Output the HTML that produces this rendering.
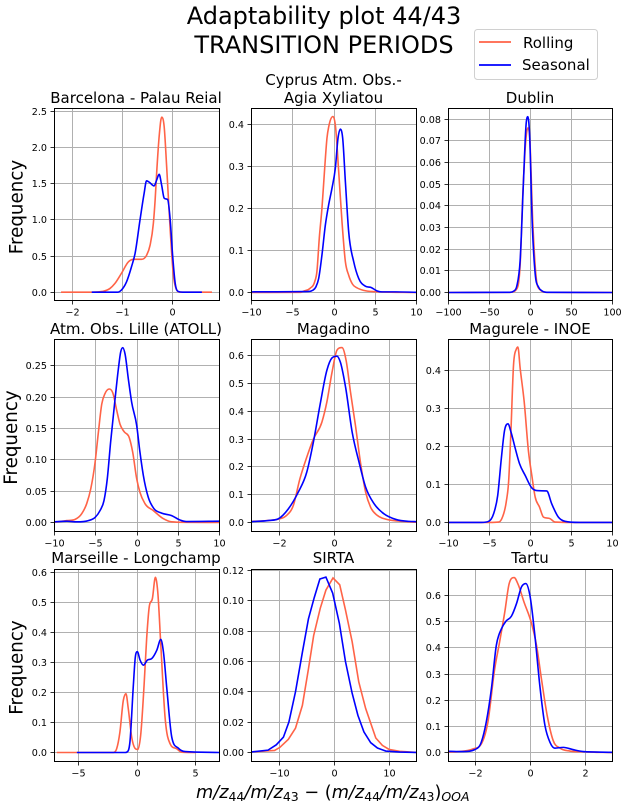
<!DOCTYPE html>
<html lang="en">
<head>
<meta charset="utf-8">
<title>Adaptability plot 44/43 - Transition periods</title>
<style>
html,body{margin:0;padding:0;background:#fff;}
body{width:627px;height:806px;overflow:hidden;}
svg{display:block;font-family:"DejaVu Sans","Liberation Sans",sans-serif;fill:#000;}
</style>
</head>
<body>
<svg id="chart" xmlns="http://www.w3.org/2000/svg" width="627" height="806" viewBox="0 0 627 806">
  <rect x="0" y="0" width="627" height="806" fill="#fff"/>
  <g id="panels"></g>

  <g font-size="24" text-anchor="middle">
    <text x="324" y="24">Adaptability plot 44/43</text>
    <text x="324" y="53">TRANSITION PERIODS</text>
  </g>

  <g>
    <rect x="474.5" y="29.5" width="123" height="50" rx="3" fill="#fff" stroke="#d0d0d0" stroke-width="1"/>
    <line x1="479" y1="42" x2="511" y2="42" stroke="#ff6347" stroke-width="1.7"/>
    <text x="523" y="48" font-size="15">Rolling</text>
    <line x1="479" y1="65" x2="511" y2="65" stroke="#0000ff" stroke-width="1.7"/>
    <text x="522" y="70" font-size="15">Seasonal</text>
  </g>

  <g font-size="15" text-anchor="middle">
    <text x="136" y="103">Barcelona - Palau Reial</text>
    <text x="333.5" y="85">Cyprus Atm. Obs.-</text>
    <text x="333.5" y="103">Agia Xyliatou</text>
    <text x="530" y="103">Dublin</text>
    <text x="136" y="334">Atm. Obs. Lille (ATOLL)</text>
    <text x="333.5" y="334">Magadino</text>
    <text x="530" y="334">Magurele - INOE</text>
    <text x="136" y="563">Marseille - Longchamp</text>
    <text x="333.5" y="563">SIRTA</text>
    <text x="530" y="563">Tartu</text>
  </g>

  <g font-size="18.3" text-anchor="middle">
    <text transform="translate(22.5 207) rotate(-90)">Frequency</text>
    <text transform="translate(17 437.5) rotate(-90)">Frequency</text>
    <text transform="translate(22.5 667.5) rotate(-90)">Frequency</text>
  </g>

  <text x="196" y="798" font-size="17.7" font-style="italic">m/z<tspan font-size="12.5" font-style="normal" dy="3">44</tspan><tspan dy="-3">/m/z</tspan><tspan font-size="12.5" font-style="normal" dy="3">43</tspan><tspan dy="-3" font-style="normal"> − (</tspan><tspan>m/z</tspan><tspan font-size="12.5" font-style="normal" dy="3">44</tspan><tspan dy="-3">/m/z</tspan><tspan font-size="12.5" font-style="normal" dy="3">43</tspan><tspan dy="-3" font-style="normal">)</tspan><tspan font-size="12.5" dy="3">OOA</tspan></text>
</svg>

<script>
// ---------- Barcelona ----------
const barcelonaXTicks = ['−2', '−1', '0'];
const barcelonaYTicks = ['0.0', '0.5', '1.0', '1.5', '2.0', '2.5'];
const barcelonaXLim = [-2.35, 0.93];
const barcelonaYLim = [-0.115, 2.54];
const barcelonaRollingX = [-2.22, -1.6, -1.4, -1.25, -1.15, -1.02, -0.88, -0.78, -0.62, -0.52, -0.45, -0.385, -0.35, -0.32, -0.265, -0.22, -0.17, -0.12, -0.05, 0.01, 0.08, 0.15, 0.78];
const barcelonaRollingY = [0, 0, 0.01, 0.05, 0.12, 0.26, 0.42, 0.455, 0.455, 0.51, 0.65, 0.95, 1.27, 1.64, 2.19, 2.42, 2.29, 1.73, 0.86, 0.26, 0.03, 0, 0];
const barcelonaSeasonalX = [-1.61, -1.1, -1.02, -0.92, -0.82, -0.75, -0.65, -0.57, -0.52, -0.465, -0.37, -0.32, -0.27, -0.22, -0.17, -0.1, -0.05, 0, 0.05, 0.11, 0.2, 0.58];
const barcelonaSeasonalY = [0, 0, 0.03, 0.14, 0.35, 0.53, 1.0, 1.36, 1.54, 1.52, 1.47, 1.55, 1.63, 1.48, 1.3, 1.28, 1.0, 0.49, 0.12, 0.01, 0, 0];

// ---------- Cyprus ----------
const cyprusXTicks = ['−10', '−5', '0', '5', '10'];
const cyprusYTicks = ['0.0', '0.1', '0.2', '0.3', '0.4'];
const cyprusXLim = [-10, 10];
const cyprusYLim = [-0.019, 0.437];
const cyprusRollingX = [-10, -4, -3.7, -2.9, -2.35, -2.07, -1.78, -1.46, -1.13, -0.85, -0.57, -0.12, 0.16, 0.57, 0.97, 1.38, 1.78, 2.27, 2.8, 3.6, 5, 10];
const cyprusRollingY = [0, 0.0005, 0.003, 0.01, 0.025, 0.05, 0.13, 0.2, 0.295, 0.367, 0.4, 0.418, 0.398, 0.287, 0.168, 0.073, 0.041, 0.019, 0.011, 0.005, 0.002, 0];
const cyprusSeasonalX = [-10, -3, -2.6, -2.2, -1.86, -1.46, -1.05, -0.65, -0.24, 0.16, 0.49, 0.77, 1.05, 1.38, 1.78, 2.39, 3, 3.8, 4.5, 5.2, 5.8, 7.5, 10];
const cyprusSeasonalY = [0.0015, 0.0025, 0.005, 0.013, 0.033, 0.089, 0.16, 0.208, 0.248, 0.295, 0.367, 0.388, 0.367, 0.263, 0.144, 0.073, 0.033, 0.015, 0.012, 0.004, 0.0015, 0.0015, 0.0005];

// ---------- Dublin ----------
const dublinXTicks = ['−100', '−50', '0', '50', '100'];
const dublinYTicks = ['0.00', '0.01', '0.02', '0.03', '0.04', '0.05', '0.06', '0.07', '0.08'];
const dublinXLim = [-100, 100];
const dublinYLim = [-0.0037, 0.085];
const dublinRollingX = [-100, -25, -16.7, -12.6, -9.3, -5.3, -3.3, -1.2, 2.8, 6.9, 11, 20, 100];
const dublinRollingY = [0, 0.0001, 0.0017, 0.013, 0.046, 0.072, 0.076, 0.073, 0.032, 0.007, 0.0015, 0.0001, 0];
const dublinSeasonalX = [-100, -25, -20.7, -16.7, -12.6, -8.5, -5.3, -3.3, -1.2, 2, 5.7, 9.8, 13.8, 20, 100];
const dublinSeasonalY = [0, 0.0001, 0.0006, 0.003, 0.015, 0.052, 0.078, 0.0812, 0.0737, 0.033, 0.0087, 0.0025, 0.0008, 0.0001, 0];

// ---------- Lille ----------
const lilleXTicks = ['−10', '−5', '0', '5', '10'];
const lilleYTicks = ['0.00', '0.05', '0.10', '0.15', '0.20', '0.25'];
const lilleXLim = [-10, 10];
const lilleYLim = [-0.0144, 0.292];
const lilleRollingX = [-10, -8.5, -7.5, -6.7, -6.1, -5.6, -5.08, -4.68, -4.27, -3.87, -3.35, -2.94, -2.46, -2.06, -1.57, -0.93, -0.52, -0.04, 0.36, 0.97, 1.98, 3.2, 4.2, 6, 10];
const lilleRollingY = [0.0005, 0.003, 0.005, 0.014, 0.03, 0.054, 0.096, 0.144, 0.189, 0.206, 0.213, 0.207, 0.179, 0.157, 0.145, 0.135, 0.112, 0.07, 0.048, 0.03, 0.019, 0.006, 0.001, 0.0002, 0];
const lilleSeasonalX = [-10, -8.5, -7.3, -5.9, -5.08, -4.48, -4, -3.6, -3.2, -2.66, -2.26, -1.98, -1.73, -1.45, -1.05, -0.65, -0.04, 0.36, 0.77, 1.37, 2.06, 2.98, 4.2, 5.2, 6, 10];
const lilleSeasonalY = [0.001, 0.002, 0.001, 0.003, 0.008, 0.019, 0.035, 0.07, 0.128, 0.197, 0.245, 0.272, 0.279, 0.269, 0.229, 0.192, 0.155, 0.112, 0.075, 0.04, 0.022, 0.015, 0.011, 0.004, 0.0015, 0.002];

// ---------- Magadino ----------
const magadinoXTicks = ['−2', '0', '2'];
const magadinoYTicks = ['0.0', '0.1', '0.2', '0.3', '0.4', '0.5', '0.6'];
const magadinoXLim = [-3, 3];
const magadinoYLim = [-0.0324, 0.658];
const magadinoRollingX = [-3, -2.4, -2.03, -1.73, -1.48, -1.24, -0.99, -0.75, -0.44, -0.26, -0.07, 0.11, 0.29, 0.44, 0.6, 0.78, 0.97, 1.15, 1.33, 1.58, 1.88, 2.37, 3];
const magadinoRollingY = [0.004, 0.007, 0.012, 0.025, 0.061, 0.157, 0.235, 0.3, 0.361, 0.433, 0.541, 0.62, 0.629, 0.583, 0.469, 0.349, 0.211, 0.109, 0.055, 0.025, 0.012, 0.005, 0.001];
const magadinoSeasonalX = [-3, -2.4, -2.03, -1.66, -1.3, -0.99, -0.75, -0.5, -0.26, -0.07, 0.11, 0.23, 0.42, 0.66, 0.91, 1.15, 1.46, 1.82, 2.25, 2.74, 3];
const magadinoSeasonalY = [0.003, 0.007, 0.013, 0.049, 0.109, 0.181, 0.289, 0.427, 0.547, 0.592, 0.598, 0.577, 0.487, 0.325, 0.217, 0.127, 0.067, 0.031, 0.011, 0.004, 0.003];

// ---------- Magurele ----------
const magureleXTicks = ['−10', '−5', '0', '5', '10'];
const magureleYTicks = ['0.0', '0.1', '0.2', '0.3', '0.4'];
const magureleXLim = [-10, 10];
const magureleYLim = [-0.0238, 0.482];
const magureleRollingX = [-10, -5, -3.9, -3.5, -2.96, -2.67, -2.39, -2.07, -1.74, -1.54, -1.26, -0.77, -0.24, 0.16, 0.57, 1.09, 1.58, 2.39, 3, 5, 10];
const magureleRollingY = [0, 0, 0.001, 0.01, 0.054, 0.107, 0.239, 0.415, 0.456, 0.462, 0.406, 0.318, 0.186, 0.124, 0.067, 0.041, 0.014, 0.01, 0.001, 0, 0];
const magureleSeasonalX = [-10, -6, -5.1, -4.5, -4, -3.56, -3.16, -2.75, -2.39, -1.86, -1.34, -0.65, 0.16, 0.77, 1.98, 2.59, 3.4, 4.2, 6, 10];
const magureleSeasonalY = [0, 0, 0.003, 0.023, 0.071, 0.168, 0.243, 0.26, 0.239, 0.195, 0.155, 0.124, 0.091, 0.084, 0.083, 0.049, 0.014, 0.003, 0, 0];

// ---------- Marseille ----------
const marseilleXTicks = ['−5', '0', '5'];
const marseilleYTicks = ['0.0', '0.1', '0.2', '0.3', '0.4', '0.5', '0.6'];
const marseilleXLim = [-7, 7];
const marseilleYLim = [-0.03, 0.61];
const marseilleRollingX = [-6.8, -2, -1.73, -1.45, -1.16, -0.94, -0.74, -0.45, -0.17, 0.06, 0.31, 0.6, 0.82, 1.02, 1.31, 1.56, 1.76, 2.02, 2.39, 2.81, 3.38, 3.8, 5];
const marseilleRollingY = [0, 0, 0.012, 0.068, 0.174, 0.196, 0.146, 0.051, 0.014, 0.01, 0.057, 0.224, 0.38, 0.48, 0.514, 0.584, 0.536, 0.358, 0.113, 0.029, 0.012, 0.001, 0];
const marseilleSeasonalX = [-5.1, -1, -0.88, -0.6, -0.31, -0.14, 0.03, 0.26, 0.54, 0.88, 1.25, 1.68, 2.02, 2.24, 2.53, 2.95, 3.52, 4.1, 7];
const marseilleSeasonalY = [0, 0, 0.001, 0.035, 0.224, 0.319, 0.336, 0.308, 0.291, 0.308, 0.313, 0.341, 0.377, 0.336, 0.213, 0.051, 0.014, 0.003, 0];

// ---------- SIRTA ----------
const sirtaXTicks = ['−10', '0', '10'];
const sirtaYTicks = ['0.00', '0.02', '0.04', '0.06', '0.08', '0.10', '0.12'];
const sirtaXLim = [-15, 15];
const sirtaYLim = [-0.006, 0.1206];
const sirtaRollingX = [-15, -12, -10.8, -9.85, -8.3, -7, -5.75, -4.65, -3.7, -2.5, -1.47, -0.18, 1.04, 2.08, 3.3, 4.5, 5.75, 7.6, 8.8, 10, 11.9, 15];
const sirtaRollingY = [0.0003, 0.001, 0.0013, 0.0033, 0.0086, 0.016, 0.031, 0.055, 0.077, 0.095, 0.107, 0.115, 0.1105, 0.094, 0.073, 0.0465, 0.029, 0.0095, 0.0046, 0.002, 0.0007, 0];
const sirtaSeasonalX = [-15, -12, -10.5, -9.2, -8.2, -7, -5.75, -4.65, -3.6, -2.57, -1.47, -0.24, 0.98, 2.08, 3.3, 4.34, 5.44, 6.67, 7.9, 9.4, 12, 15];
const sirtaSeasonalY = [0.0003, 0.0015, 0.005, 0.01, 0.02, 0.04, 0.066, 0.088, 0.102, 0.1143, 0.1156, 0.105, 0.085, 0.06, 0.039, 0.0245, 0.0135, 0.0064, 0.0029, 0.0009, 0.0002, 0];

// ---------- Tartu ----------
const tartuXTicks = ['−2', '0', '2'];
const tartuYTicks = ['0.0', '0.1', '0.2', '0.3', '0.4', '0.5', '0.6'];
const tartuXLim = [-3, 3];
const tartuYLim = [-0.034, 0.6997];
const tartuRollingX = [-3, -2.6, -2.11, -1.8, -1.56, -1.31, -1.13, -0.94, -0.78, -0.6, -0.45, -0.24, 0.04, 0.22, 0.4, 0.61, 0.83, 1.08, 1.44, 1.93, 3];
const tartuRollingY = [0.002, 0.004, 0.014, 0.033, 0.116, 0.32, 0.423, 0.538, 0.646, 0.669, 0.642, 0.576, 0.493, 0.41, 0.282, 0.142, 0.046, 0.017, 0.006, 0.003, 0];
const tartuSeasonalX = [-3, -2.47, -2.05, -1.8, -1.62, -1.43, -1.25, -1.06, -0.9, -0.7, -0.51, -0.33, -0.17, -0.02, 0.16, 0.34, 0.53, 0.71, 0.89, 1.2, 1.57, 1.93, 3];
const tartuSeasonalY = [0.005, 0.004, 0.011, 0.04, 0.116, 0.244, 0.41, 0.474, 0.502, 0.521, 0.57, 0.633, 0.646, 0.6, 0.448, 0.257, 0.103, 0.04, 0.017, 0.02, 0.011, 0.004, 0.001];

// ---------- Layout ----------
const NS = 'http://www.w3.org/2000/svg';
const COL_EDGES = [[54.5, 219.5], [251.5, 416.5], [448.5, 612.5]];
const ROW_EDGES = [[108.5, 300.5], [339.5, 531.5], [569.5, 761.5]];

const panelDefs = [
  { id: 'barcelona', col: 0, row: 0, xTicks: barcelonaXTicks, yTicks: barcelonaYTicks, xLim: barcelonaXLim, yLim: barcelonaYLim, rx: barcelonaRollingX, ry: barcelonaRollingY, sx: barcelonaSeasonalX, sy: barcelonaSeasonalY },
  { id: 'cyprus', col: 1, row: 0, xTicks: cyprusXTicks, yTicks: cyprusYTicks, xLim: cyprusXLim, yLim: cyprusYLim, rx: cyprusRollingX, ry: cyprusRollingY, sx: cyprusSeasonalX, sy: cyprusSeasonalY },
  { id: 'dublin', col: 2, row: 0, xTicks: dublinXTicks, yTicks: dublinYTicks, xLim: dublinXLim, yLim: dublinYLim, rx: dublinRollingX, ry: dublinRollingY, sx: dublinSeasonalX, sy: dublinSeasonalY },
  { id: 'lille', col: 0, row: 1, xTicks: lilleXTicks, yTicks: lilleYTicks, xLim: lilleXLim, yLim: lilleYLim, rx: lilleRollingX, ry: lilleRollingY, sx: lilleSeasonalX, sy: lilleSeasonalY },
  { id: 'magadino', col: 1, row: 1, xTicks: magadinoXTicks, yTicks: magadinoYTicks, xLim: magadinoXLim, yLim: magadinoYLim, rx: magadinoRollingX, ry: magadinoRollingY, sx: magadinoSeasonalX, sy: magadinoSeasonalY },
  { id: 'magurele', col: 2, row: 1, xTicks: magureleXTicks, yTicks: magureleYTicks, xLim: magureleXLim, yLim: magureleYLim, rx: magureleRollingX, ry: magureleRollingY, sx: magureleSeasonalX, sy: magureleSeasonalY },
  { id: 'marseille', col: 0, row: 2, xTicks: marseilleXTicks, yTicks: marseilleYTicks, xLim: marseilleXLim, yLim: marseilleYLim, rx: marseilleRollingX, ry: marseilleRollingY, sx: marseilleSeasonalX, sy: marseilleSeasonalY },
  { id: 'sirta', col: 1, row: 2, linear: true, xTicks: sirtaXTicks, yTicks: sirtaYTicks, xLim: sirtaXLim, yLim: sirtaYLim, rx: sirtaRollingX, ry: sirtaRollingY, sx: sirtaSeasonalX, sy: sirtaSeasonalY },
  { id: 'tartu', col: 2, row: 2, xTicks: tartuXTicks, yTicks: tartuYTicks, xLim: tartuXLim, yLim: tartuYLim, rx: tartuRollingX, ry: tartuRollingY, sx: tartuSeasonalX, sy: tartuSeasonalY }
];

function make(tag, parent) {
  const el = document.createElementNS(NS, tag);
  parent.appendChild(el);
  return el;
}
function setAttrs(el, attrs) {
  for (const k in attrs) el.setAttribute(k, attrs[k]);
}
function tickValue(label) {
  return parseFloat(label.replace('−', '-'));
}
function linearScale(domain, range) {
  return v => range[0] + (v - domain[0]) / (domain[1] - domain[0]) * (range[1] - range[0]);
}
function linearPath(px, py) {
  return px.map((x, i) => (i ? 'L' : 'M') + x.toFixed(2) + ' ' + py[i].toFixed(2)).join('');
}
// Smooth cubic through the points: weighted-secant tangents, limited so tails do not overshoot.
function smoothPath(px, py) {
  const n = px.length;
  const d = [], m = new Array(n);
  for (let i = 0; i < n - 1; i++) d.push((py[i + 1] - py[i]) / (px[i + 1] - px[i]));
  m[0] = d[0];
  m[n - 1] = d[n - 2];
  for (let i = 1; i < n - 1; i++) {
    if (d[i - 1] * d[i] <= 0) { m[i] = 0; continue; }
    const h0 = px[i] - px[i - 1], h1 = px[i + 1] - px[i];
    const t = (d[i - 1] * h1 + d[i] * h0) / (h0 + h1);
    const lim = 3 * Math.min(Math.abs(d[i - 1]), Math.abs(d[i]));
    m[i] = Math.sign(t) * Math.min(Math.abs(t), lim);
  }
  let path = 'M' + px[0].toFixed(2) + ' ' + py[0].toFixed(2);
  for (let i = 0; i < n - 1; i++) {
    const h = (px[i + 1] - px[i]) / 3;
    path += 'C' + (px[i] + h).toFixed(2) + ' ' + (py[i] + m[i] * h).toFixed(2) + ' ' +
      (px[i + 1] - h).toFixed(2) + ' ' + (py[i + 1] - m[i + 1] * h).toFixed(2) + ' ' +
      px[i + 1].toFixed(2) + ' ' + py[i + 1].toFixed(2);
  }
  return path;
}

function drawPanel(def, root) {
  const [left, right] = COL_EDGES[def.col];
  const [top, bottom] = ROW_EDGES[def.row];
  const xScale = linearScale(def.xLim, [left, right]);
  const yScale = linearScale(def.yLim, [bottom, top]);

  const g = make('g', root);
  
  

  const clip = make('clipPath', g);
  clip.setAttribute('id', 'clip-' + def.id);
  const clipRect = make('rect', clip);
  setAttrs(clipRect, { x: left, y: top, width: right - left, height: bottom - top });

  // Grid and ticks
  def.xTicks.forEach(label => {
    const px = Math.round(xScale(tickValue(label)) - 0.5) + 0.5;
    const grid = make('line', g);
    setAttrs(grid, { x1: px, x2: px, y1: top, y2: bottom, stroke: '#b0b0b0', 'stroke-width': 1 });
    
    
    const tick = make('line', g);
    setAttrs(tick, { x1: px, x2: px, y1: bottom, y2: bottom + 4, stroke: '#000', 'stroke-width': 0.8 });
    
    
    const text = make('text', g);
    setAttrs(text, { x: px, y: bottom + 15, 'font-size': 9.6, 'text-anchor': 'middle', fill: '#000' });
    text.textContent = label;
    
    
  });
  def.yTicks.forEach(label => {
    const py = Math.round(yScale(tickValue(label)) - 0.5) + 0.5;
    const grid = make('line', g);
    setAttrs(grid, { x1: left, x2: right, y1: py, y2: py, stroke: '#b0b0b0', 'stroke-width': 1 });
    
    
    const tick = make('line', g);
    setAttrs(tick, { x1: left - 4, x2: left, y1: py, y2: py, stroke: '#000', 'stroke-width': 0.8 });
    
    
    const text = make('text', g);
    setAttrs(text, { x: left - 7.5, y: py + 3.5, 'font-size': 9.6, 'text-anchor': 'end', fill: '#000' });
    text.textContent = label;
    
    
  });

  // Series
  const builder = def.linear ? linearPath : smoothPath;
  const rolling = make('path', g);
  setAttrs(rolling, { d: builder(def.rx.map(xScale), def.ry.map(yScale)), fill: 'none', stroke: '#ff6347', 'stroke-width': 1.6, 'clip-path': 'url(#clip-' + def.id + ')' });
  
  
  const seasonal = make('path', g);
  setAttrs(seasonal, { d: builder(def.sx.map(xScale), def.sy.map(yScale)), fill: 'none', stroke: '#0000ff', 'stroke-width': 1.6, 'clip-path': 'url(#clip-' + def.id + ')' });
  
  

  // Frame
  const frame = make('rect', g);
  setAttrs(frame, { x: left, y: top, width: right - left, height: bottom - top, fill: 'none', stroke: '#000', 'stroke-width': 1 });
  
  
}

const panelsRoot = document.getElementById('panels');
panelDefs.forEach(def => drawPanel(def, panelsRoot));
</script>
</body>
</html>
